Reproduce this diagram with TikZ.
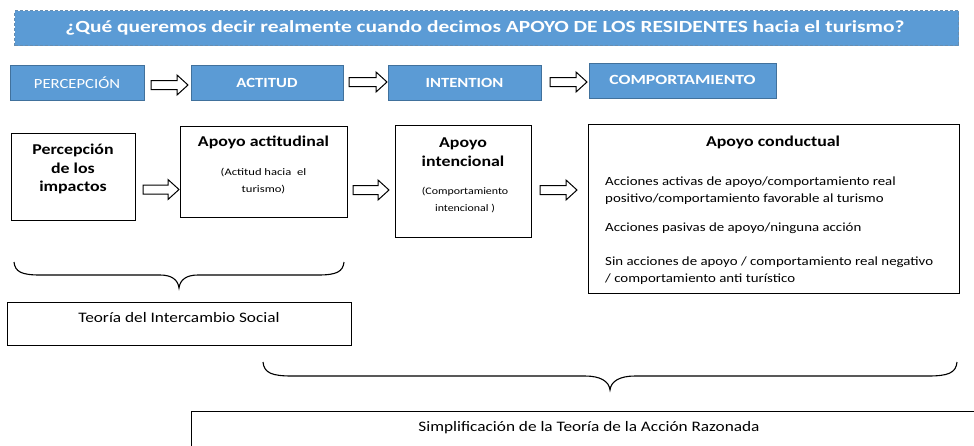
\documentclass[tikz,border=0pt]{standalone}
\usepackage{fontspec}
\setmainfont{Carlito}[FakeStretch=1.19]
\newfontfamily\titlefont{Carlito}[FakeStretch=1.26]
\usetikzlibrary{calc}
\definecolor{ofblue}{HTML}{5B9BD5}
\definecolor{ofedge}{HTML}{41719C}
\tikzset{
  bluebox/.style={draw=ofedge, line width=1.4pt, fill=ofblue, text=white, inner sep=0pt, anchor=north west},
  plainbox/.style={draw=black, line width=1.2pt, fill=white, inner sep=0pt, anchor=north west},
  lbl/.style={inner sep=0pt, align=center},
  head/.style={lbl, font=\fontsize{15}{18.5}\selectfont\bfseries},
  small/.style={lbl, font=\fontsize{10}{17}\selectfont},
  item/.style={inner sep=0pt, anchor=west, align=left, font=\fontsize{12.5}{17}\selectfont},
  blockarr/.style={draw=black, line width=1pt, fill=white, line join=miter},
  bracepath/.style={draw=black, line width=1.1pt}
}
% block arrow: #1 start x, #2 end x, #3 centre y
\newcommand\blockarrow[3]{%
  \draw[blockarr] (#1,#3-4.5) -- (#2-11,#3-4.5) -- (#2-11,#3-10) -- (#2,#3) -- (#2-11,#3+10) -- (#2-11,#3+4.5) -- (#1,#3+4.5) -- cycle;}
\begin{document}
\begin{tikzpicture}[x=1pt,y=-1pt]
\useasboundingbox (0,0) rectangle (974,445);
\clip (0,0) rectangle (974,445);
% title
\node[bluebox, draw=ofedge!80, line width=1.2pt, dash pattern=on 3pt off 2pt, minimum width=944pt, minimum height=35pt] (title) at (14,10) {};
\node[lbl, text=white, font=\titlefont\fontsize{17}{20}\selectfont\bfseries] (titletxt) at (485,28) {¿Qué queremos decir realmente cuando decimos APOYO DE LOS RESIDENTES hacia el turismo?};
% row 2
\node[bluebox, minimum width=134pt, minimum height=35pt] (perc) at (10,65) {};
\node[lbl, text=white, font=\fontsize{14}{16}\selectfont] (perctxt) at (77,82.5) {PERCEPCIÓN};
\node[bluebox, minimum width=152pt, minimum height=35pt] (acti) at (191,65) {};
\node[lbl, text=white, font=\fontsize{14}{16}\selectfont\bfseries] (actitxt) at (267,82.5) {ACTITUD};
\node[bluebox, minimum width=153pt, minimum height=35pt] (inte) at (388,65) {};
\node[lbl, text=white, font=\fontsize{14}{16}\selectfont\bfseries] (intetxt) at (464.5,82.5) {INTENTION};
\node[bluebox, minimum width=187pt, minimum height=35pt] (comp) at (589,63) {};
\node[lbl, text=white, font=\titlefont\fontsize{14}{16}\selectfont\bfseries] (comptxt) at (682.5,80) {COMPORTAMIENTO};
\blockarrow{151}{188}{85}
\blockarrow{349}{387}{82}
\blockarrow{550}{587}{82}
% middle boxes
\node[plainbox, minimum width=124pt, minimum height=87pt] (pi) at (11,133) {};
\node[head] (pitxt) at (73,169) {Percepción\\de los\\impactos};
\node[plainbox, minimum width=167pt, minimum height=91pt] (aa) at (180,126) {};
\node[head] (aatxt) at (263.5,142) {Apoyo actitudinal};
\node[small, font=\titlefont\fontsize{10}{17}\selectfont] (aasub) at (263.5,181.5) {(Actitud hacia\ \ el\\turismo)};
\node[plainbox, minimum width=136pt, minimum height=112pt] (ai) at (395,125) {};
\node[head] (aitxt) at (463,152) {Apoyo\\intencional};
\node[small] (aisub) at (465,200.5) {(Comportamiento\\intencional )};
\node[plainbox, minimum width=371pt, minimum height=169pt] (ac) at (588,124) {};
\node[head] (actxt) at (773,142) {Apoyo conductual};
\node[item] (ac1) at (605,190.5) {Acciones activas de apoyo/comportamiento real\\positivo/comportamiento favorable al turismo};
\node[item] (ac2) at (605,228) {Acciones pasivas de apoyo/ninguna acción};
\node[item] (ac3) at (605,270.5) {Sin acciones de apoyo / comportamiento real negativo\\/ comportamiento anti turístico};
\blockarrow{143}{179}{189.5}
\blockarrow{353}{389}{190}
\blockarrow{540}{577}{190}
% brace 1
\draw[bracepath] (14,262) .. controls (15,272) and (22,275) .. (40,275) -- (160,275) .. controls (172,275) and (178,280) .. (179,288) .. controls (180,280) and (186,275) .. (198,275) -- (318,275) .. controls (336,275) and (343,272) .. (344,262);
\node[plainbox, minimum width=344pt, minimum height=43pt] (tis) at (7,302) {};
\node[lbl, font=\fontsize{14.5}{17}\selectfont] (tistxt) at (179,318) {Teoría del Intercambio Social};
% brace 2
\draw[bracepath] (263,362) .. controls (264,373) and (272,376) .. (292,376) -- (585,376) .. controls (600,376) and (609,381) .. (610,390) .. controls (611,381) and (620,376) .. (635,376) -- (928,376) .. controls (948,376) and (956,373) .. (957,362);
\node[plainbox, minimum width=827pt, minimum height=60pt] (tar) at (191,411) {};
\node[lbl, font=\fontsize{14.5}{17}\selectfont] (tartxt) at (589,428) {Simplificación de la Teoría de la Acción Razonada};
\end{tikzpicture}
\end{document}
